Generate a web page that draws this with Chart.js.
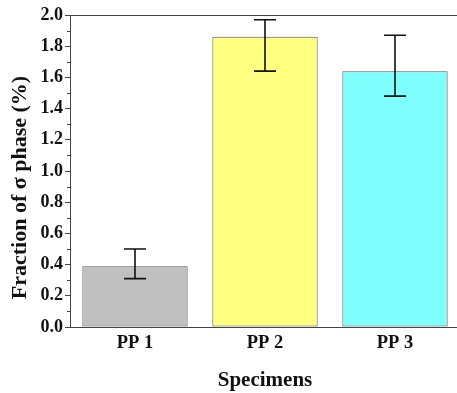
<!DOCTYPE html>
<html>
<head>
<meta charset="utf-8">
<script src="https://cdn.jsdelivr.net/npm/chart.js@4.4.1/dist/chart.umd.min.js"></script>
<style>
    html, body { margin: 0; padding: 0; background: #fff; overflow: hidden; }
    #wrap { width: 460px; height: 393px; }
</style>
</head>
<body>
<div id="wrap"><canvas id="phaseChart"></canvas></div>
<script>
// data
const specimens = ["PP 1", "PP 2", "PP 3"];
const sigmaFraction = [0.39, 1.86, 1.64];
const errLow = [0.31, 1.64, 1.48];
const errHigh = [0.50, 1.97, 1.87];
const barColors = ["#c0c0c0", "#ffff80", "#80ffff"];

const serif = "'Liberation Serif', 'Times New Roman', serif";

// draws error bars, minor ticks and the top frame line
const extrasPlugin = {
    id: "extras",
    afterDatasetsDraw(chart) {
        const ctx = chart.ctx;
        const x = chart.scales.x;
        const y = chart.scales.y;
        const area = chart.chartArea;
        ctx.save();

        // error bars
        ctx.strokeStyle = "#111";
        ctx.lineWidth = 1.6;
        specimens.forEach((name, i) => {
            const cx = x.getPixelForValue(i);
            const yl = y.getPixelForValue(errLow[i]);
            const yh = y.getPixelForValue(errHigh[i]);
            ctx.beginPath();
            ctx.moveTo(cx, yl);
            ctx.lineTo(cx, yh);
            ctx.moveTo(cx - 11, yh);
            ctx.lineTo(cx + 11, yh);
            ctx.moveTo(cx - 11, yl);
            ctx.lineTo(cx + 11, yl);
            ctx.stroke();
        });

        // minor ticks on the y axis
        ctx.strokeStyle = "#444";
        ctx.lineWidth = 1;
        for (let v = 0.1; v < 2.0; v += 0.2) {
            const py = Math.round(y.getPixelForValue(v)) + 0.5;
            ctx.beginPath();
            ctx.moveTo(area.left - 3, py);
            ctx.lineTo(area.left, py);
            ctx.stroke();
        }

        // top frame line
        ctx.beginPath();
        ctx.moveTo(area.left, area.top + 0.5);
        ctx.lineTo(area.right, area.top + 0.5);
        ctx.stroke();
        ctx.restore();
    }
};

const ctx = document.getElementById("phaseChart").getContext("2d");

new Chart(ctx, {
    type: "bar",
    data: {
        labels: specimens,
        datasets: [
            {
                data: sigmaFraction,
                backgroundColor: barColors,
                borderColor: "#555",
                borderWidth: 1,
                borderSkipped: false,
                barPercentage: 0.81,
                categoryPercentage: 1.0
            }
        ]
    },
    options: {
        responsive: true,
        maintainAspectRatio: false,
        animation: false,
        layout: { padding: { top: 15, left: 0, right: 0, bottom: 0 } },
        plugins: {
            legend: { display: false },
            tooltip: { enabled: false }
        },
        scales: {
            x: {
                grid: { display: false, drawTicks: false },
                border: { display: true, color: "#444", width: 1 },
                ticks: {
                    color: "#111",
                    padding: 5,
                    font: { family: serif, size: 18.5, weight: "bold" }
                },
                title: {
                    display: true,
                    text: "Specimens",
                    color: "#111",
                    padding: { top: 0, bottom: 0 },
                    font: { family: serif, size: 21, weight: "bold" }
                },
                afterFit(scale) { scale.height = 66; }
            },
            y: {
                min: 0,
                max: 2.0,
                grid: {
                    drawOnChartArea: false,
                    drawTicks: true,
                    tickLength: 5,
                    tickColor: "#444"
                },
                border: { display: true, color: "#444", width: 1 },
                ticks: {
                    stepSize: 0.2,
                    color: "#111",
                    padding: 2,
                    font: { family: serif, size: 18, weight: "bold" },
                    callback: (v) => v.toFixed(1)
                },
                title: {
                    display: true,
                    // trailing spaces nudge the title down like in the original
                    text: "Fraction of σ phase (%)\u00a0\u00a0\u00a0\u00a0\u00a0\u00a0",
                    color: "#111",
                    padding: { top: 7, bottom: 0 },
                    font: { family: serif, size: 22, weight: "bold" }
                },
                afterFit(scale) { scale.width = 70; }
            }
        }
    },
    plugins: [extrasPlugin]
});
</script>
</body>
</html>
